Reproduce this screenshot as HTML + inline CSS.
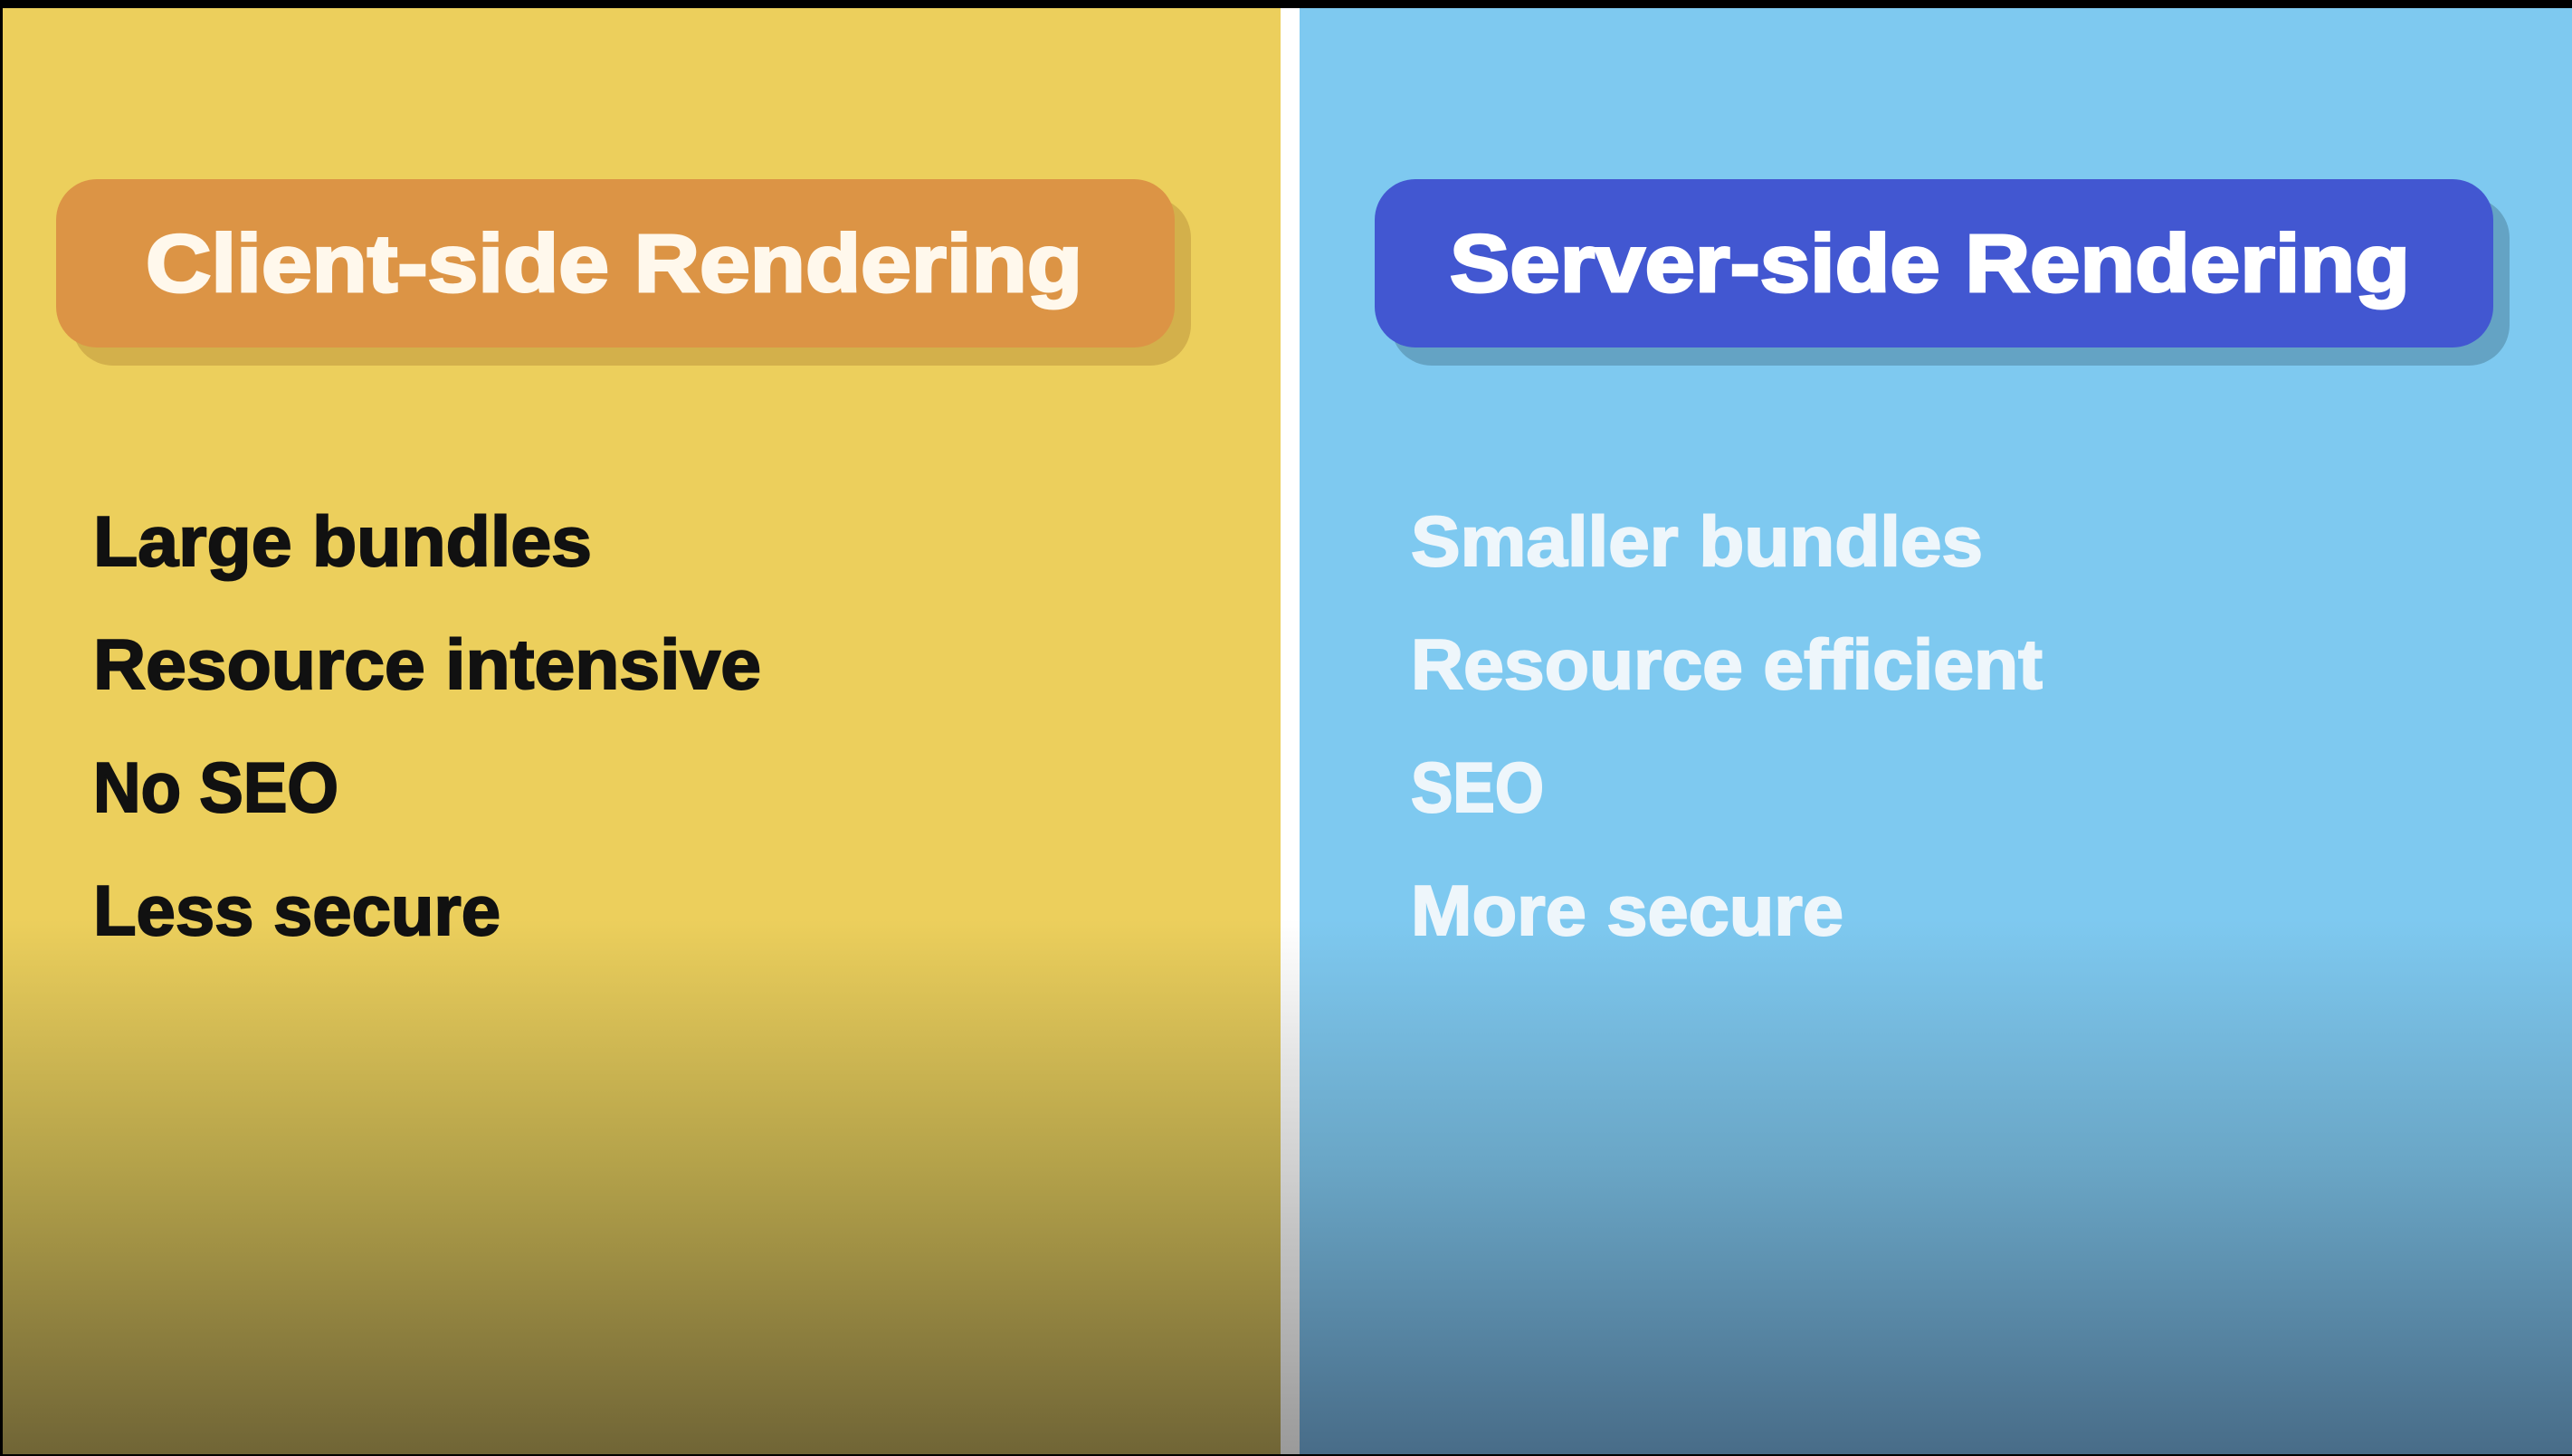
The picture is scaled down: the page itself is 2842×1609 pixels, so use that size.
<!DOCTYPE html>
<html><head><style>
html,body{margin:0;padding:0;background:#000;}
svg{display:block;}
text{font-family:"Liberation Sans",sans-serif;font-weight:bold;}
</style></head><body>
<svg width="2842" height="1609" viewBox="0 0 2842 1609" xmlns="http://www.w3.org/2000/svg">
<defs>
<linearGradient id="gy" x1="0" y1="0" x2="0" y2="1">
<stop offset="0" stop-color="#ECCF5C"/>
<stop offset="0.63" stop-color="#ECCF5C"/>
<stop offset="0.8" stop-color="#B4A24A"/>
<stop offset="1" stop-color="#706536"/>
</linearGradient>
<linearGradient id="gb" x1="0" y1="0" x2="0" y2="1">
<stop offset="0" stop-color="#7EC9F0"/>
<stop offset="0.63" stop-color="#7EC9F0"/>
<stop offset="0.8" stop-color="#6AA6C6"/>
<stop offset="1" stop-color="#486C88"/>
</linearGradient>
<linearGradient id="gw" x1="0" y1="0" x2="0" y2="1">
<stop offset="0" stop-color="#FFFFFF"/>
<stop offset="0.63" stop-color="#FFFFFF"/>
<stop offset="1" stop-color="#9A9A9A"/>
</linearGradient>
</defs>
<rect x="0" y="0" width="2842" height="1609" fill="#000"/>
<rect x="3" y="9" width="1412" height="1598" fill="url(#gy)"/>
<rect x="1415" y="9" width="21" height="1598" fill="url(#gw)"/>
<rect x="1436" y="9" width="1406" height="1598" fill="url(#gb)"/>

<rect x="80" y="218" width="1236" height="186" rx="45" fill="#D3B04B"/>
<rect x="62" y="198" width="1236" height="186" rx="45" fill="#DC9445"/>
<text x="161" y="322" font-size="90" fill="#FFF8EC" stroke="#FFF8EC" stroke-width="3" textLength="1035" lengthAdjust="spacingAndGlyphs">Client-side Rendering</text>

<rect x="1537" y="218" width="1236" height="186" rx="45" fill="#64A3C4"/>
<rect x="1519" y="198" width="1236" height="186" rx="45" fill="#4257D1"/>
<text x="1602" y="322" font-size="90" fill="#FFFFFF" stroke="#FFFFFF" stroke-width="3" textLength="1061" lengthAdjust="spacingAndGlyphs">Server-side Rendering</text>

<g font-size="78" fill="#111" stroke="#111" stroke-width="2">
<text x="103" y="625" textLength="551" lengthAdjust="spacingAndGlyphs">Large bundles</text>
<text x="103" y="761" textLength="738" lengthAdjust="spacingAndGlyphs">Resource intensive</text>
<text x="103" y="897" textLength="271" lengthAdjust="spacingAndGlyphs">No SEO</text>
<text x="103" y="1033" textLength="450" lengthAdjust="spacingAndGlyphs">Less secure</text>
</g>
<g font-size="78" fill="#EEF6FB" stroke="#EEF6FB" stroke-width="2">
<text x="1559" y="625" textLength="632" lengthAdjust="spacingAndGlyphs">Smaller bundles</text>
<text x="1559" y="761" textLength="698" lengthAdjust="spacingAndGlyphs">Resource efficient</text>
<text x="1559" y="897" textLength="147" lengthAdjust="spacingAndGlyphs">SEO</text>
<text x="1559" y="1033" textLength="478" lengthAdjust="spacingAndGlyphs">More secure</text>
</g>
</svg>
</body></html>
